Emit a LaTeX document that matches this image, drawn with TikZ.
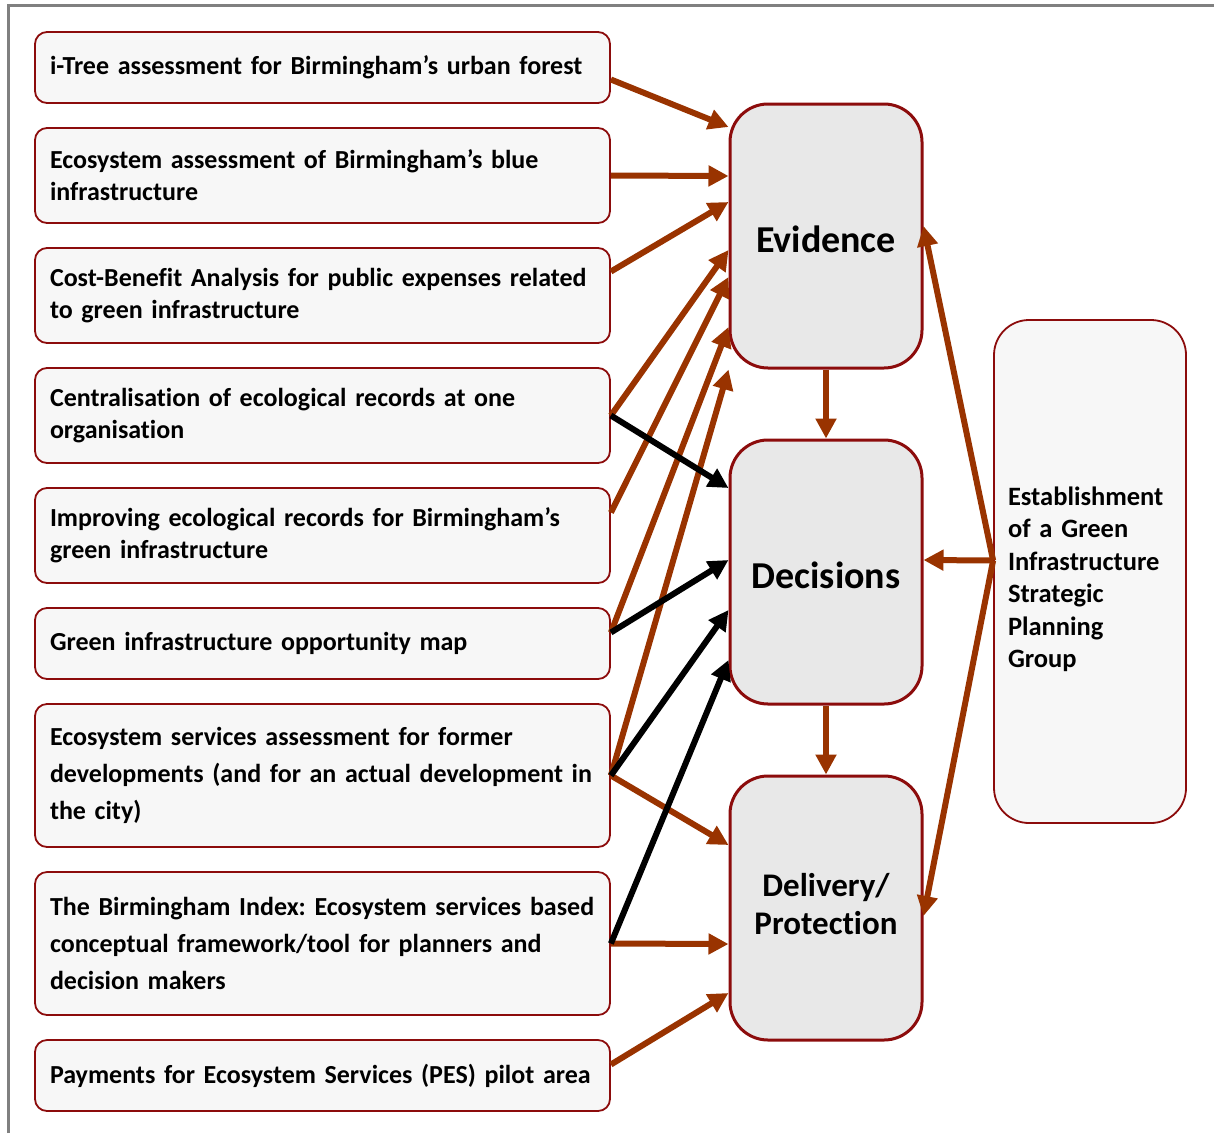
\documentclass[tikz,border=0pt]{standalone}
\usepackage{fontspec}
\setmainfont[Ligatures=NoCommon]{Carlito}
\usepackage{tikz}
\usetikzlibrary{arrows.meta}

\definecolor{boxred}{RGB}{140,12,12}
\definecolor{arrbrown}{RGB}{153,51,0}
\definecolor{framegray}{RGB}{128,128,128}

\newcommand{\nb}[1]{\mbox{#1}}
\newcommand{\lowered}[2]{\raisebox{#1}[\height][\depth]{#2}}

\begin{document}
\frenchspacing
\begin{tikzpicture}[x=1pt,y=-1pt,
    srcbox/.style={draw=boxred, line width=1.8pt, fill=black!3, rounded corners=12pt,
        text width=545pt, inner xsep=15pt, inner ysep=0pt, align=left,
        font=\fontsize{26}{32}\selectfont\bfseries},
    tallbox/.style={srcbox, font=\fontsize{26}{37}\selectfont\bfseries},
    hubbox/.style={draw=boxred, line width=3pt, fill=black!9, rounded corners=38pt,
        minimum width=192pt, minimum height=264pt, align=center,
        font=\fontsize{38}{46}\selectfont\bfseries},
    groupbox/.style={draw=boxred, line width=1.8pt, fill=black!3, rounded corners=35pt,
        text width=164pt, inner xsep=14pt, minimum height=503pt, align=left,
        font=\fontsize{26.5}{32.4}\selectfont\bfseries},
    brownarr/.style={draw=arrbrown, line width=6pt, -{Triangle[length=20pt,width=20pt]}},
    blackarr/.style={draw=black, line width=6pt, -{Triangle[length=20pt,width=20pt]}}
]
    \useasboundingbox (0,0) rectangle (1214,1133);
    \draw[framegray, line width=3pt] (8,1133) -- (8,5) -- (1214,5);

    % sources
    \node[srcbox, minimum height=71pt] (itree) at (322.5,67.5) {\nb{i-Tree assessment for Birmingham’s urban forest}};
    \node[srcbox, minimum height=95pt] (blue) at (322.5,175.5) {\nb{Ecosystem assessment of Birmingham’s blue}\\infrastructure};
    \node[srcbox, minimum height=95pt] (cba) at (322.5,295.5) {\nb{Cost-Benefit Analysis for public expenses related}\\\nb{to green infrastructure}};
    \node[srcbox, minimum height=95pt] (central) at (322.5,415.5) {\nb{Centralisation of ecological records at one}\\organisation};
    \node[srcbox, minimum height=95pt] (records) at (322.5,535.5) {\nb{Improving ecological records for Birmingham’s}\\\nb{green infrastructure}};
    \node[srcbox, minimum height=71pt] (oppmap) at (322.5,643.5) {\nb{Green infrastructure opportunity map}};
    \node[tallbox, minimum height=143pt] (essa) at (322.5,775.5) {\nb{Ecosystem services assessment for former}\\\nb{developments (and for an actual development in}\\\nb{the city)}};
    \node[tallbox, minimum height=143pt] (index) at (322.5,943.5) {\nb{The Birmingham Index: Ecosystem services based}\\\nb{conceptual framework/tool for planners and}\\\nb{decision makers}};
    \node[srcbox, minimum height=71pt] (pes) at (322.5,1075.5) {\nb{Payments for Ecosystem Services (PES) pilot area}};

    % middle column
    \node[hubbox] (evidence) at (826,236) {\lowered{-3pt}{Evidence}};
    \node[hubbox] (decisions) at (826,572) {\lowered{-3pt}{Decisions}};
    \node[hubbox, font=\fontsize{33}{38}\selectfont\bfseries] (delivery) at (826,908) {\lowered{4pt}{Delivery/}\\\lowered{4pt}{Protection}};

    \node[groupbox] (group) at (1090,571.5) {\mbox{}\\[1.6pt]Establishment\\of a Green\\Infrastructure\\Strategic\\Planning\\Group};

    % brown links
    \draw[brownarr] ([yshift=-12pt]itree.east) -- ([yshift=109pt]evidence.west);
    \draw[brownarr] (blue.east) -- ([yshift=60pt]evidence.west);
    \draw[brownarr] ([yshift=24pt]cba.east) -- ([yshift=34pt]evidence.west);
    \draw[brownarr] (central.east) -- ([yshift=-14pt]evidence.west);
    \draw[brownarr] ([yshift=23pt]records.east) -- ([yshift=-41pt]evidence.west);
    \draw[brownarr] ([yshift=11pt]oppmap.east) -- ([yshift=-91pt]evidence.west);
    \draw[brownarr] (essa.east) -- (evidence.south west);
    \draw[brownarr] (essa.east) -- ([yshift=63pt]delivery.west);
    \draw[brownarr] (index.east) -- ([yshift=-36pt]delivery.west);
    \draw[brownarr] ([yshift=11pt]pes.east) -- ([yshift=-85pt]delivery.west);

    \draw[brownarr] (evidence.south) -- (decisions.north);
    \draw[brownarr] (decisions.south) -- (delivery.north);

    % black links
    \draw[blackarr] (central.east) -- ([yshift=84pt]decisions.west);
    \draw[blackarr] ([yshift=11pt]oppmap.east) -- ([yshift=12pt]decisions.west);
    \draw[blackarr] (essa.east) -- ([yshift=-38pt]decisions.west);
    \draw[blackarr] (index.east) -- ([yshift=-88pt]decisions.west);

    % group links
    \coordinate (hub) at ([yshift=11pt]group.west);
    \draw[brownarr] (hub) -- ([yshift=10pt]evidence.east);
    \draw[brownarr] (hub) -- ([yshift=12pt]decisions.east);
    \draw[brownarr] (hub) -- ([yshift=-8pt]delivery.east);
\end{tikzpicture}
\end{document}
